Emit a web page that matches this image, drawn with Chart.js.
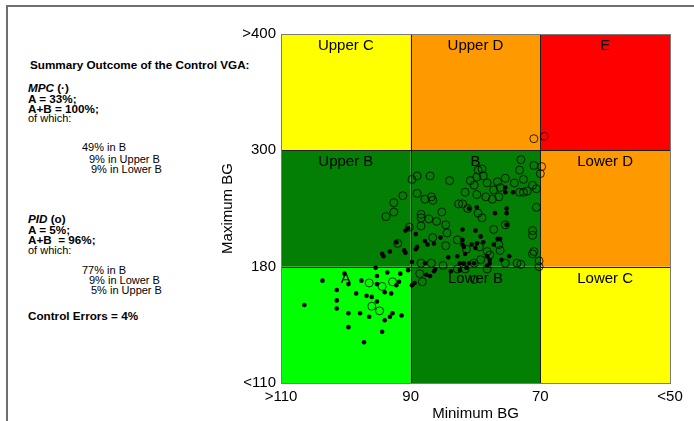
<!DOCTYPE html>
<html lang="en">
<head>
  <meta charset="UTF-8" />
  <title>Control VGA</title>
  <script src="https://cdn.jsdelivr.net/npm/chart.js"></script>
  <style>
    body {
      margin: 0;
      background: #ffffff;
      font-family: 'Liberation Sans', Arial, sans-serif;
    }
    #frame {
      position: absolute;
      left: 6px;
      top: 5px;
      width: 688px;
      height: 416px;
      border-top: 2px solid #6e6e6e;
      border-left: 2px solid #6e6e6e;
    }
    #chartBox {
      position: absolute;
      left: 0;
      top: 0;
      width: 694px;
      height: 421px;
    }
    .line {
      position: absolute;
      font-size: 11px;
      line-height: 12px;
      color: #000;
      white-space: nowrap;
    }
    .b { font-weight: bold; font-size: 11.7px; }
  </style>
</head>
<body>

<div id="frame"></div>
<div id="summary"></div>
<div id="chartBox"><canvas id="vga"></canvas></div>

<script>
  // axes are in grid units: x 0 = ">110" ... 3 = "<50", y 0 = "<110" ... 3 = ">400"
  const xTickLabels = ['>110', '90', '70', '<50'];
  const yTickLabels = ['<110', '180', '300', '>400'];

  // rows from bottom to top, columns from left to right
  const zoneNames = [
    ['A', 'Lower B', 'Lower C'],
    ['Upper B', 'B', 'Lower D'],
    ['Upper C', 'Upper D', 'E']
  ];
  const zoneColors = [
    ['#00ff00', '#038003', '#ffff00'],
    ['#038003', '#038003', '#ff9900'],
    ['#ffff00', '#ff9900', '#ff0000']
  ];

  // MPC (filled dots) [min BG, max BG]
  const mpcPoints = [
    [0.18,0.67],[0.32,0.88],[0.43,0.80],[0.43,0.71],[0.43,0.64],[0.49,0.94],[0.52,0.85],[0.52,0.60],
    [0.52,0.48],[0.58,0.77],[0.61,0.60],[0.62,0.88],[0.64,0.35],[0.66,0.75],[0.68,0.57],[0.70,0.74],
    [0.73,0.99],[0.74,0.92],[0.74,0.85],[0.74,0.70],[0.78,0.44],[0.80,0.78],[0.80,0.54],[0.82,0.95],
    [0.84,0.57],[0.85,0.77],[0.86,0.60],[0.89,0.84],[0.91,0.87],[0.92,0.94],[0.93,0.58],[0.98,0.97],
    [1.01,0.84],[1.03,0.86],[1.12,0.93],[1.15,0.92],[1.18,0.96],[1.31,0.96],[1.19,0.98],[1.38,0.97],
    [1.43,0.99],
    [0.96,1.31],[0.98,1.33],[0.89,1.21],[0.78,1.11],[0.79,1.09],[0.84,1.13],[0.95,1.14],[0.96,1.12],
    [1.04,1.28],[1.05,1.17],[1.04,1.15],[1.11,1.22],[1.13,1.19],[1.18,1.20],[1.23,1.25],[1.01,1.04],
    [1.11,1.03],[1.40,1.32],[1.50,1.31],[1.51,1.51],[1.54,1.26],[1.40,1.23],[1.40,1.19],[1.41,1.17],
    [1.47,1.19],[1.51,1.20],[1.50,1.16],[1.56,1.21],[1.64,1.19],[1.67,1.24],[1.69,1.24],[1.65,1.46],
    [1.74,1.50],[1.74,1.46],[1.74,1.36],[1.73,1.68],[1.73,1.64],[1.79,1.64],[1.29,1.08],[1.36,1.09],
    [1.42,1.11],[1.38,1.03],[1.41,1.03],[1.45,1.03],[1.49,1.03],[1.59,1.09],[1.61,1.06],[1.61,1.03],
    [1.59,1.01],[1.70,1.06],[1.76,1.09],[1.45,1.50]
  ];

  // PID (open circles) [min BG, max BG]
  const pidPoints = [
    [1.95,2.10],[2.03,2.12],
    [1.95,1.87],[2.01,1.86],[2.00,1.80],[1.97,1.67],[1.94,1.70],[1.97,1.51],[1.94,1.31],[1.94,1.27],
    [1.95,1.13],[1.94,1.11],[1.99,1.05],[1.99,1.00],
    [1.85,1.92],[1.84,1.83],[1.87,1.75],[1.80,1.72],[1.84,1.64],[1.87,1.64],[1.90,1.65],
    [1.73,1.76],[1.67,1.73],[1.69,1.68],[1.64,1.66],[1.63,1.58],[1.68,1.60],[1.58,1.60],[1.51,1.62],
    [1.59,1.72],[1.56,1.78],[1.52,1.83],[1.55,1.84],[1.51,1.77],[1.46,1.74],[1.49,1.70],[1.42,1.64],
    [1.37,1.54],[1.40,1.54],[1.44,1.50],[1.52,1.46],[1.55,1.42],[1.73,1.36],[1.64,1.32],[1.68,1.19],
    [1.69,1.14],[1.59,1.13],[1.53,1.17],[1.61,1.10],[1.49,1.03],[1.54,1.06],[1.73,1.03],[1.82,1.03],
    [1.85,1.02],[1.43,1.15],
    [1.30,1.74],[1.15,1.78],[1.05,1.78],[1.01,1.75],[1.05,1.63],[1.11,1.58],[1.16,1.60],[1.17,1.57],
    [1.08,1.45],[1.08,1.42],[1.14,1.41],[1.08,1.35],[1.20,1.39],[1.24,1.47],[1.27,1.36],[1.28,1.29],
    [1.17,1.25],[1.27,1.18],[1.36,1.23],
    [0.99,1.34],[0.94,1.61],[0.87,1.55],[0.87,1.47],[0.81,1.43],[0.90,1.20],
    [1.08,1.03],[1.16,1.03],[1.25,1.01],[1.07,0.94],[1.09,0.87],[1.49,0.89],[1.59,0.98],[1.36,0.98],
    [1.42,0.98],
    [0.68,0.86],[0.78,0.83],[0.86,0.87],[0.70,0.66],[0.76,0.62]
  ];

  // summary text: [html, left, vertical centre, bold]
  const summaryLines = [
    ['Summary Outcome of the Control VGA:', 30, 64.5, true],
    ['<i>MPC</i> (·)', 28, 88, true],
    ['A = 33%;', 28, 98.5, true],
    ['A+B = 100%;', 28, 108.5, true],
    ['of which:', 28, 117.5, false],
    ['49% in B', 82, 146.5, false],
    ['9% in Upper B', 89, 158.5, false],
    ['9% in Lower B', 91, 168.5, false],
    ['<i>PID</i> (o)', 28, 219, true],
    ['A = 5%;', 28, 230, true],
    ['A+B&nbsp; = 96%;', 28, 240, true],
    ['of which:', 28, 250, false],
    ['77% in B', 82, 269.5, false],
    ['9% in Lower B', 89, 279.5, false],
    ['5% in Upper B', 91, 289.5, false],
    ['Control Errors = 4%', 28, 316, true]
  ];

  const summary = document.getElementById('summary');
  summaryLines.forEach(([html, left, yc, bold]) => {
    const d = document.createElement('div');
    d.className = bold ? 'line b' : 'line';
    d.style.left = left + 'px';
    d.style.top = (yc - 6) + 'px';
    d.innerHTML = html;
    summary.appendChild(d);
  });

  const vgaGrid = {
    id: 'vgaGrid',
    beforeDatasetsDraw(chart) {
      const { ctx, scales: { x, y } } = chart;
      ctx.save();
      for (let r = 0; r < 3; r++) {
        for (let c = 0; c < 3; c++) {
          const x0 = x.getPixelForValue(c), x1 = x.getPixelForValue(c + 1);
          const y0 = y.getPixelForValue(r + 1), y1 = y.getPixelForValue(r);
          ctx.fillStyle = zoneColors[r][c];
          ctx.fillRect(x0, y0, x1 - x0, y1 - y0);
        }
      }
      ctx.strokeStyle = '#1e1e1e';
      ctx.lineWidth = 1;
      ctx.beginPath();
      [1, 2].forEach(v => {
        const px = Math.round(x.getPixelForValue(v)) + 0.5;
        ctx.moveTo(px, y.getPixelForValue(3));
        ctx.lineTo(px, y.getPixelForValue(0));
        const py = Math.round(y.getPixelForValue(v)) + 0.5;
        ctx.moveTo(x.getPixelForValue(0), py);
        ctx.lineTo(x.getPixelForValue(3), py);
      });
      ctx.stroke();

      ctx.strokeStyle = '#7a7a7a';
      const a = chart.chartArea;
      ctx.strokeRect(Math.round(a.left) + 0.5, Math.round(a.top) + 0.5,
        Math.round(a.right - a.left), Math.round(a.bottom - a.top));

      ctx.font = '15px "Liberation Sans", Arial, sans-serif';
      ctx.fillStyle = '#000';
      ctx.textAlign = 'center';
      ctx.textBaseline = 'middle';
      for (let r = 0; r < 3; r++) {
        for (let c = 0; c < 3; c++) {
          const cx = (x.getPixelForValue(c) + x.getPixelForValue(c + 1)) / 2;
          ctx.fillText(zoneNames[r][c], cx, y.getPixelForValue(r + 1) + 12);
        }
      }
      ctx.restore();
    }
  };

  const tickFont = { family: "'Liberation Sans', Arial, sans-serif", size: 15 };

  new Chart(document.getElementById('vga'), {
    type: 'scatter',
    data: {
      datasets: [
        {
          label: 'MPC',
          data: mpcPoints.map(([u, v]) => ({ x: u, y: v })),
          pointRadius: 2.3,
          backgroundColor: '#000',
          borderWidth: 0
        },
        {
          label: 'PID',
          data: pidPoints.map(([u, v]) => ({ x: u, y: v })),
          pointRadius: 4,
          backgroundColor: 'rgba(0,0,0,0)',
          borderColor: '#000',
          borderWidth: 0.8
        }
      ]
    },
    options: {
      responsive: true,
      maintainAspectRatio: false,
      animation: false,
      layout: { padding: { left: 220, right: 24, top: 34, bottom: 0 } },
      plugins: { legend: { display: false }, tooltip: { enabled: false } },
      scales: {
        x: {
          type: 'linear', min: 0, max: 3,
          ticks: { stepSize: 1, callback: v => xTickLabels[v], font: tickFont, color: '#000', padding: 5, maxRotation: 0, autoSkip: false },
          grid: { display: false, drawTicks: false },
          border: { display: false },
          title: { display: true, text: 'Minimum BG', font: { ...tickFont, lineHeight: 1 }, padding: 0, color: '#000' },
          afterFit: s => { s.height = 38; }
        },
        y: {
          type: 'linear', min: 0, max: 3,
          ticks: { stepSize: 1, callback: v => yTickLabels[v], font: tickFont, color: '#000', padding: 5, autoSkip: false },
          grid: { display: false, drawTicks: false },
          border: { display: false },
          title: { display: true, text: 'Maximum BG', font: { ...tickFont, lineHeight: 1 }, padding: 0, color: '#000' },
          afterFit: s => { s.width = 61; }
        }
      }
    },
    plugins: [vgaGrid]
  });
</script>

</body>
</html>
